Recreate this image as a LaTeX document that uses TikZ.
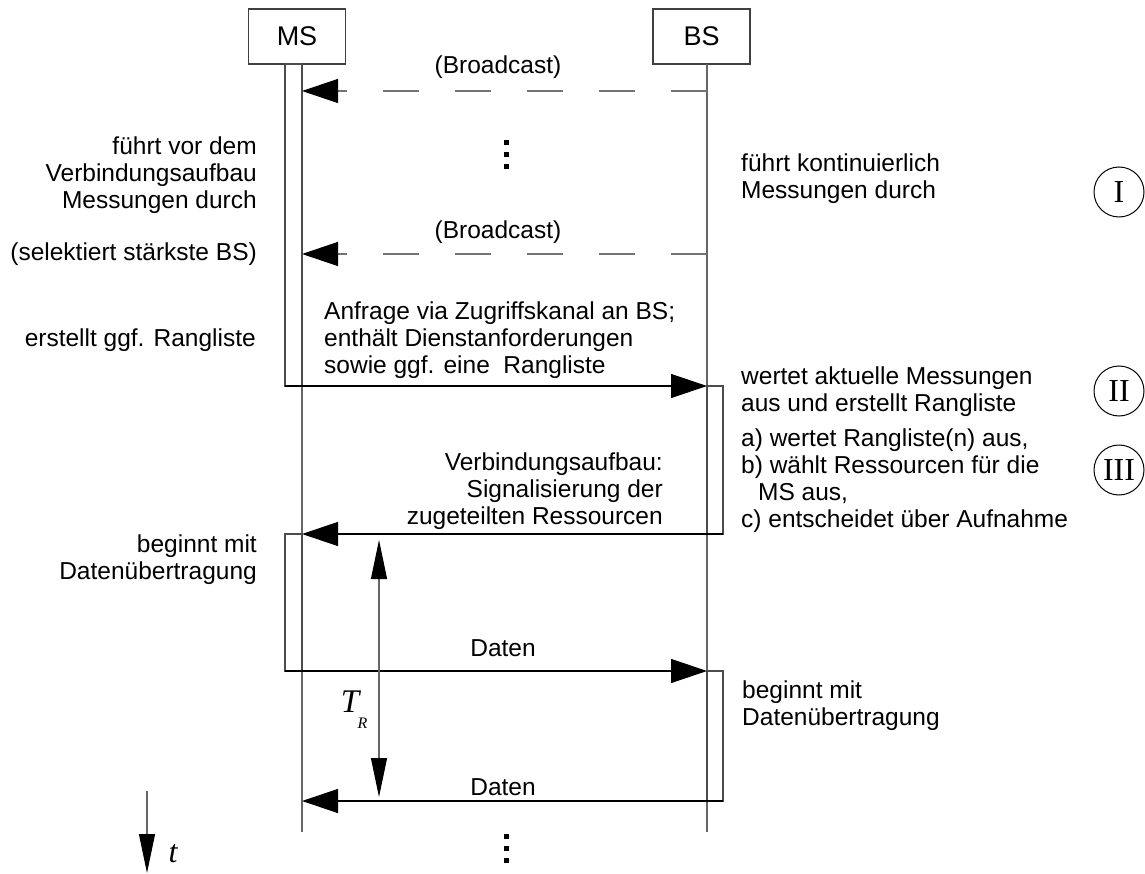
\documentclass[tikz,border=0pt]{standalone}
\usepackage{fontspec}
\setmainfont{Liberation Sans}
\newfontfamily\serifit{Liberation Serif}
\usetikzlibrary{arrows.meta}

\tikzset{
  vtip/.tip={Triangle[length=39pt,width=16pt,color=black,fill=black]},
  htip/.tip={Triangle[length=36pt,width=24pt,color=black,fill=black]}
}

\begin{document}
\begin{tikzpicture}[x=1pt,y=-1pt,
  lbl/.style={font=\fontsize{24.5}{27}\selectfont, inner sep=0pt},
  actor/.style={draw=black!75, line width=1.2pt, minimum width=97pt, minimum height=55pt,
                inner sep=0pt, font=\fontsize{27}{27}\selectfont},
  life/.style={draw=black!60, line width=1.2pt},
  bar/.style={draw=black!70, line width=1.2pt, fill=white},
  msg/.style={draw=black, line width=1.3pt, -{htip}},
  bcast/.style={draw=black!55, line width=1.3pt, dash pattern=on 36pt off 36pt, -{htip}},
  span/.style={draw=black!60, line width=1.2pt, {vtip}-{vtip}},
  tarrow/.style={draw=black!60, line width=1.2pt, -{vtip}},
  phase/.style={circle, draw=black, line width=1pt, minimum size=50pt, inner sep=0pt,
                font=\serifit\fontsize{32}{32}\selectfont},
  dot/.style={fill=black}
]
\useasboundingbox (0,0) rectangle (1145,874);

% actors
\node[actor] (ms) at (297,36.5) {MS};
\node[actor] (bs) at (701.5,36.5) {BS};

% lifelines
\coordinate (msTop) at (302,64);
\coordinate (msEnd) at (302,832);
\coordinate (bsTop) at (707,64);
\coordinate (bsEnd) at (707,832);
\draw[life] (msTop) -- (msEnd);
\draw[life] (bsTop) -- (bsEnd);

% activation bars
\draw[bar] (285,64) rectangle (302,386);
\draw[bar] (707,386) rectangle (723,534);
\draw[bar] (285,534) rectangle (302,671);
\draw[bar] (707,671) rectangle (723,801);

% message end points
\coordinate (b1s) at (707,91);   \coordinate (b1e) at (302,91);
\coordinate (b2s) at (707,254);  \coordinate (b2e) at (302,254);
\coordinate (reqS) at (285,386); \coordinate (reqE) at (707,386);
\coordinate (setS) at (723,534); \coordinate (setE) at (302,534);
\coordinate (d1S) at (285,671);  \coordinate (d1E) at (707,671);
\coordinate (d2S) at (723,801);  \coordinate (d2E) at (302,801);

% messages
\draw[bcast] (b1s) -- (b1e);
\draw[bcast] (b2s) -- (b2e);
\draw[msg] (reqS) -- (reqE);
\draw[msg] (setS) -- (setE);
\draw[msg] (d1S) -- (d1E);
\draw[msg] (d2S) -- (d2E);

% message labels
\node[lbl] (bl1) at (498,67) {(Broadcast)};
\node[lbl] (bl2) at (498,232) {(Broadcast)};
\node[lbl, align=left, anchor=south west] (reqL) at (324,379)
  {Anfrage via Zugriffskanal an BS;\\enthält Dienstanforderungen\\sowie ggf. eine\ \ Rangliste};
\node[lbl, align=right, anchor=south east] (setL) at (663,530)
  {Verbindungsaufbau:\\Signalisierung der\\zugeteilten Ressourcen};
\node[lbl] (dl1) at (503,648) {Daten};
\node[lbl] (dl2) at (503,787) {Daten};

% ellipsis dots
\foreach \y in {143,155,167,836,848,860}
  \fill[dot] (503.5,\y-2.5) rectangle (508.5,\y+2.5);

% MS side notes
\node[lbl, align=right, anchor=east] (n1) at (257,175)
  {führt vor dem\\Verbindungsaufbau\\Messungen durch};
\node[lbl, anchor=east] (n2) at (257,254) {(selektiert stärkste BS)};
\node[lbl, anchor=east] (n3) at (256,340) {erstellt ggf. Rangliste};
\node[lbl, align=right, anchor=east] (n4) at (257,560) {beginnt mit\\Datenübertragung};

% BS side notes
\node[lbl, align=left, anchor=west] (r1) at (741,179) {führt kontinuierlich\\Messungen durch};
\node[lbl, align=left, anchor=west] (r2) at (741,392) {wertet aktuelle Messungen\\aus und erstellt Rangliste};
\node[lbl, align=left, anchor=west] (r3) at (741,481)
  {a) wertet Rangliste(n) aus,\\b) wählt Ressourcen für die\\\hspace*{17pt}MS aus,\\c) entscheidet über Aufnahme};
\node[lbl, align=left, anchor=west] (r4) at (742,706) {beginnt mit\\Datenübertragung};

% phases
\node[phase] (p1) at (1119,192) {I};
\node[phase] (p2) at (1119,391) {II};
\node[phase] (p3) at (1119,470) {III};

% response time
\coordinate (trTop) at (379,540);
\coordinate (trBot) at (379,797);
\draw[span] (trTop) -- (trBot);
\node[inner sep=0pt, font=\serifit\itshape\fontsize{33}{33}\selectfont] (T) at (350,702) {T};
\node[inner sep=0pt, font=\serifit\itshape\fontsize{16}{16}\selectfont] (R) at (362.5,723) {R};

% time axis
\coordinate (tTop) at (147,791);
\coordinate (tBot) at (147,873);
\draw[tarrow] (tTop) -- (tBot);
\node[inner sep=0pt, font=\serifit\itshape\fontsize{32}{32}\selectfont] (tl) at (173,854) {t};
\end{tikzpicture}
\end{document}
